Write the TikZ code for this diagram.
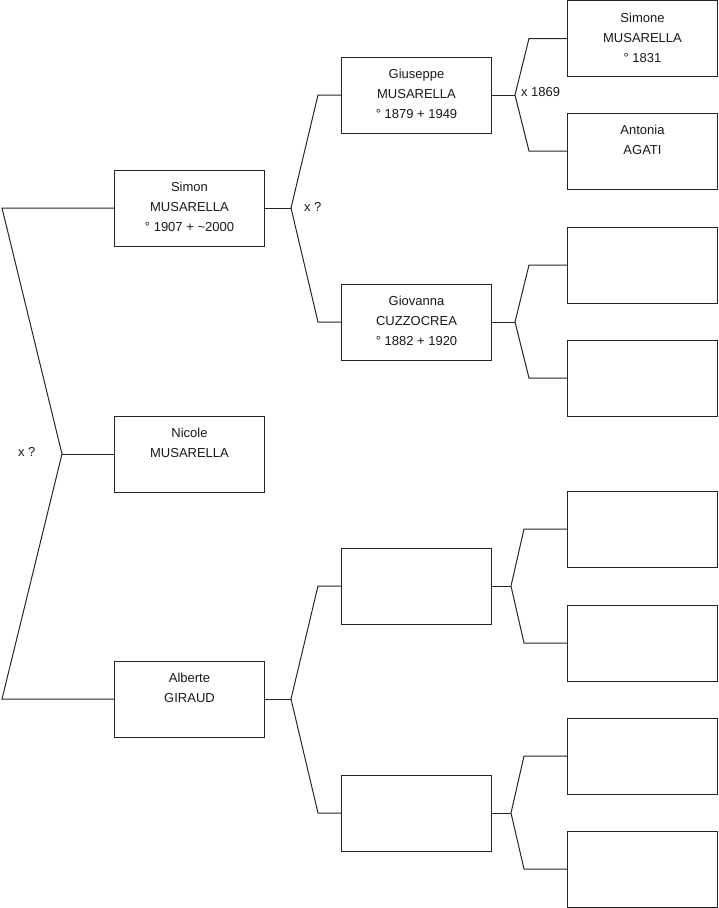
\documentclass[tikz,border=0pt]{standalone}
\usepackage{fontspec}
\setmainfont{Liberation Sans}
\newcommand\fstrut{\rule{0pt}{14pt}}
\begin{document}
\begin{tikzpicture}[x=1pt,y=-1pt,
  box/.style={draw=black!85, line width=1pt, rectangle, minimum width=150pt, minimum height=76pt, inner sep=0pt, outer sep=0pt},
  txt/.style={anchor=north, inner sep=0pt, outer sep=0pt, align=center, font=\fontsize{13}{20}\selectfont, text=black!90},
  lbl/.style={anchor=base west, inner sep=0pt, outer sep=0pt, font=\fontsize{13}{20}\selectfont, text=black!90},
  conn/.style={draw=black!85, line width=1pt, line join=miter}]
\useasboundingbox (0,0) rectangle (719,908);
% column 1
\node[box] (simon)   at (189.5,208) {};
\node[box] (nicole)  at (189.5,454) {};
\node[box] (alberte) at (189.5,699) {};
% column 2
\node[box] (giuseppe) at (416.5,95) {};
\node[box] (giovanna) at (416.5,322) {};
\node[box] (p3)       at (416.5,586) {};
\node[box] (p4)       at (416.5,813) {};
% column 3
\node[box] (g1) at (642.5,38.5) {};
\node[box] (g2) at (642.5,151) {};
\node[box] (g3) at (642.5,265) {};
\node[box] (g4) at (642.5,378) {};
\node[box] (g5) at (642.5,529) {};
\node[box] (g6) at (642.5,643) {};
\node[box] (g7) at (642.5,756) {};
\node[box] (g8) at (642.5,869) {};
% texts
\node[txt] (tsimon) at ([yshift=-7.6pt]simon.north) {\fstrut Simon\\MUSARELLA\\° 1907 + \textasciitilde2000};
\node[txt] (tnicole) at ([yshift=-7.6pt]nicole.north) {\fstrut Nicole\\MUSARELLA};
\node[txt] (talberte) at ([yshift=-7.6pt]alberte.north) {\fstrut Alberte\\GIRAUD};
\node[txt] (tgiuseppe) at ([yshift=-7.6pt]giuseppe.north) {\fstrut Giuseppe\\MUSARELLA\\° 1879 + 1949};
\node[txt] (tgiovanna) at ([yshift=-7.6pt]giovanna.north) {\fstrut Giovanna\\CUZZOCREA\\° 1882 + 1920};
\node[txt] (tg1) at ([yshift=-7.6pt]g1.north) {\fstrut Simone\\MUSARELLA\\° 1831};
\node[txt] (tg2) at ([yshift=-7.6pt]g2.north) {\fstrut Antonia\\AGATI};
% vertices
\coordinate (v0) at (62,454);
\coordinate (e0) at (2,454);
\coordinate (v1) at (291,208);
\coordinate (e1) at (318,208);
\coordinate (v2) at (291,699);
\coordinate (e2) at (318,699);
\coordinate (v3) at (515,95);
\coordinate (e3) at (529,95);
\coordinate (v4) at (515,322);
\coordinate (e4) at (529,322);
\coordinate (v5) at (511,586);
\coordinate (e5) at (524,586);
\coordinate (v6) at (511,813);
\coordinate (e6) at (524,813);
% connectors
\draw[conn] (nicole.west) -- (v0);
\draw[conn] (simon.west) -- (simon.west -| e0) -- (v0) -- (alberte.west -| e0) -- (alberte.west);
\draw[conn] (simon.east) -- (v1);
\draw[conn] (giuseppe.west) -- (giuseppe.west -| e1) -- (v1) -- (giovanna.west -| e1) -- (giovanna.west);
\draw[conn] (alberte.east) -- (v2);
\draw[conn] (p3.west) -- (p3.west -| e2) -- (v2) -- (p4.west -| e2) -- (p4.west);
\draw[conn] (giuseppe.east) -- (v3);
\draw[conn] (g1.west) -- (g1.west -| e3) -- (v3) -- (g2.west -| e3) -- (g2.west);
\draw[conn] (giovanna.east) -- (v4);
\draw[conn] (g3.west) -- (g3.west -| e4) -- (v4) -- (g4.west -| e4) -- (g4.west);
\draw[conn] (p3.east) -- (v5);
\draw[conn] (g5.west) -- (g5.west -| e5) -- (v5) -- (g6.west -| e5) -- (g6.west);
\draw[conn] (p4.east) -- (v6);
\draw[conn] (g7.west) -- (g7.west -| e6) -- (v6) -- (g8.west -| e6) -- (g8.west);
% marriage labels
\node[lbl] (m0) at (18,456.6) {x ?};
\node[lbl] (m1) at (304,211.5) {x ?};
\node[lbl] (m3) at (521,96.6) {x 1869};
\end{tikzpicture}
\end{document}
